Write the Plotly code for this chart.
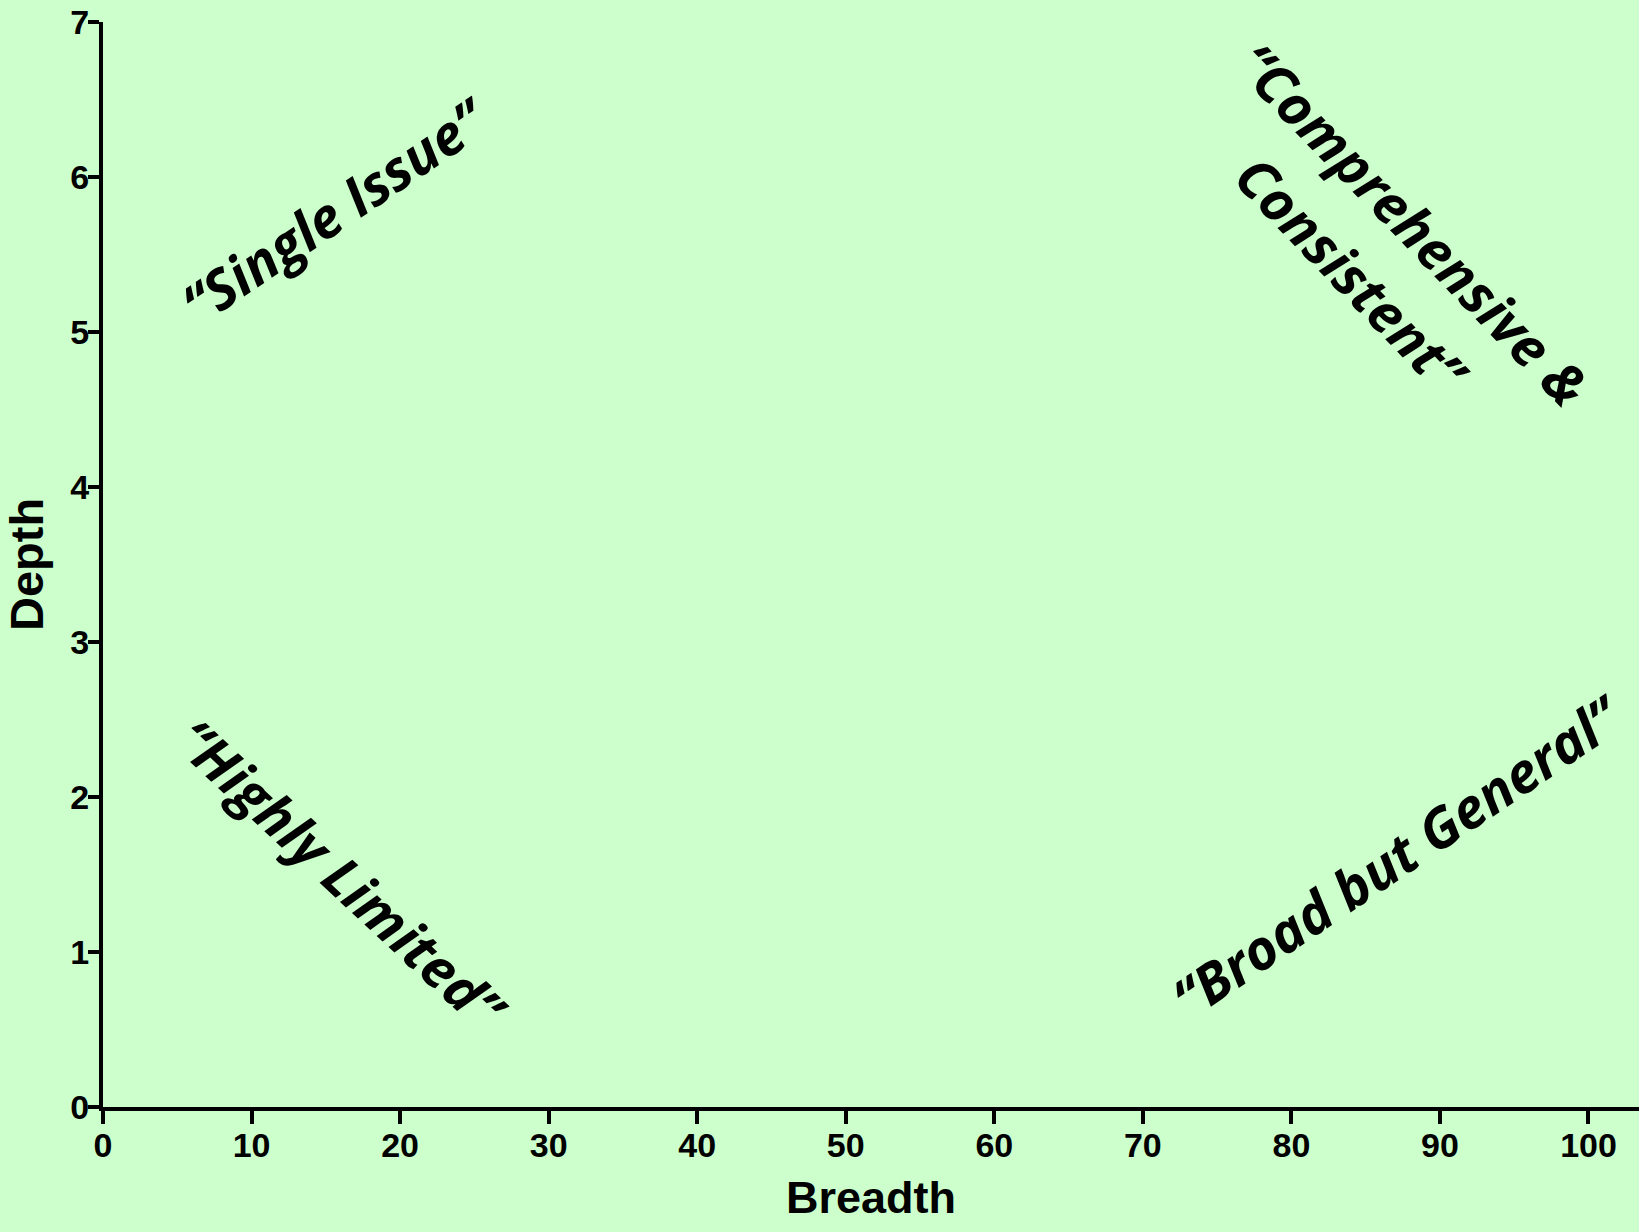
import plotly.graph_objects as go

# ---- data ----
x_ticks = [0, 10, 20, 30, 40, 50, 60, 70, 80, 90, 100]
y_ticks = [0, 1, 2, 3, 4, 5, 6, 7]
x_title = "Breadth"
y_title = "Depth"

quadrant_labels = [
    "“Single Issue”",
    "“Comprehensive &",
    "Consistent”",
    "“Highly Limited”",
    "“Broad but General”",
]
label_x = [15.6, 88.2, 84.1, 16.1, 87.1]
label_y = [5.79, 5.70, 5.37, 1.50, 1.62]
label_angle = [-34, 46, 46, 43, -34]

BG = "#CCFFCC"

fig = go.Figure()
fig.add_trace(go.Scatter(x=[], y=[], mode="markers", showlegend=False, hoverinfo="skip"))

for t, xv, yv, a in zip(quadrant_labels, label_x, label_y, label_angle):
    fig.add_annotation(
        x=xv, y=yv, xref="x", yref="y", text=t, showarrow=False,
        textangle=a, xanchor="center", yanchor="middle",
        font=dict(family="Open Sans", size=55, color="black", weight="bold", style="italic"),
    )

axis_common = dict(
    showgrid=False, zeroline=False, showline=True, linecolor="black", linewidth=4,
    ticks="outside", tickcolor="black", tickwidth=4,
    tickfont=dict(family="Arial", size=34, color="black", weight="bold"),
)

fig.update_xaxes(
    range=[0, 103.4], tickmode="array", tickvals=x_ticks,
    ticktext=[str(v) for v in x_ticks], ticklen=13,
    ticklabelstandoff=-8,
    title_text=x_title, title_standoff=20,
    title_font=dict(family="Arial", size=45, color="black", weight="bold"),
    **axis_common,
)
fig.update_yaxes(
    range=[0, 7], tickmode="array", tickvals=y_ticks,
    ticktext=[str(v) for v in y_ticks], ticklen=11,
    ticklabelstandoff=-8,
    title_text=y_title, title_standoff=14,
    title_font=dict(family="Arial", size=47, color="black", weight="bold"),
    **axis_common,
)

fig.update_layout(
    width=1639, height=1232,
    margin=dict(l=103, r=0, t=22, b=125),
    paper_bgcolor=BG, plot_bgcolor=BG,
    showlegend=False,
)

fig.write_html(
    "out.html",
    config={"displayModeBar": False},
    post_script="document.body.style.margin='0';document.body.style.padding='0';document.body.style.overflow='hidden';",
)
